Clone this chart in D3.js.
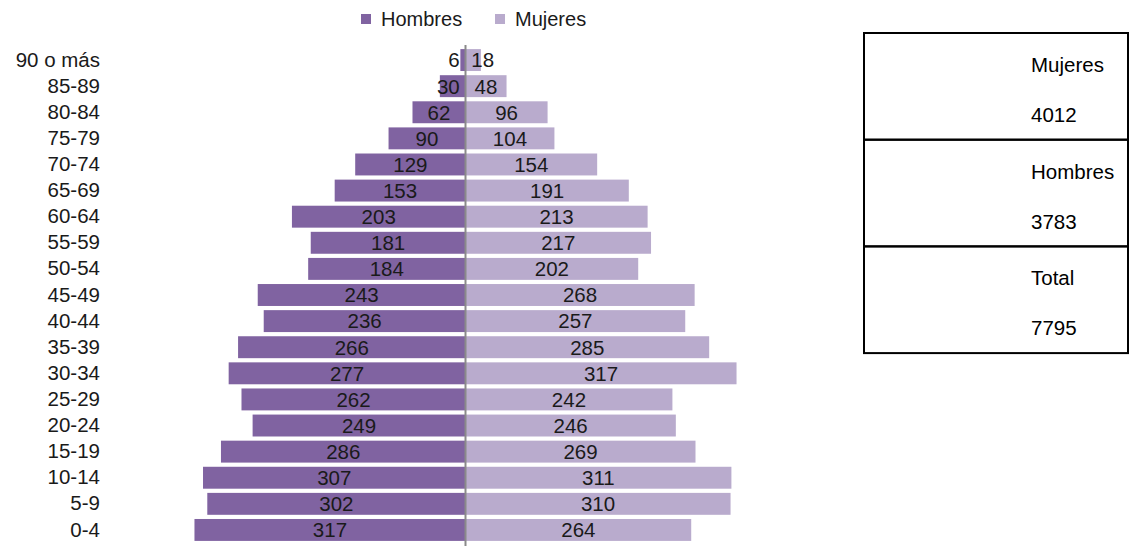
<!DOCTYPE html>
<meta charset="utf-8">
<style>
    body { margin: 0; background: #fff; }
    text { font-family: "Liberation Sans", Arial, sans-serif; fill: #1a1a1a; }
    .axis path, .axis line { display: none; }
    .axis text { font-size: 20.5px; }
    .val { font-size: 20.5px; }
    .legend text { font-size: 20px; }
    .box text { font-size: 20.5px; fill: #000; }
</style>
<svg width="1133" height="546"></svg>
<script src="https://cdn.jsdelivr.net/npm/d3@7"></script>
<script>

    var ages = ["0-4", "5-9", "10-14", "15-19", "20-24", "25-29", "30-34", "35-39", "40-44",
        "45-49", "50-54", "55-59", "60-64", "65-69", "70-74", "75-79", "80-84", "85-89", "90 o más"];
    var hombres = [317, 302, 307, 286, 249, 262, 277, 266, 236, 243, 184, 181, 203, 153, 129, 90, 62, 30, 6];
    var mujeres = [264, 310, 311, 269, 246, 242, 317, 285, 257, 268, 202, 217, 213, 191, 154, 104, 96, 48, 18];
    var seriesNames = ["Hombres", "Mujeres"];
    var colors = ["#8063a1", "#b9abcd"];
    var totalLabels = ["Mujeres", "Hombres", "Total"];
    var totalValues = [4012, 3783, 7795];

    var svg = d3.select("svg");

    var x = d3.scaleLinear()
            .domain([-350, 350])
            .range([166.25, 764.75]);

    var y = d3.scaleBand()
            .domain(ages.slice().reverse())
            .range([47, 543])
            .paddingInner(0.16)
            .paddingOuter(0.08);

    var rows = ages.map(function(a, i) { return { age: a, h: hombres[i], m: mujeres[i] }; });

    // bars, hombres to the left
    svg.append("g").selectAll("rect")
            .data(rows)
            .enter().append("rect")
            .attr("x", function(d) { return x(-d.h); })
            .attr("y", function(d) { return y(d.age); })
            .attr("width", function(d) { return x(0) - x(-d.h); })
            .attr("height", y.bandwidth())
            .attr("fill", colors[0]);

    svg.append("g").selectAll("rect")
            .data(rows)
            .enter().append("rect")
            .attr("x", x(0))
            .attr("y", function(d) { return y(d.age); })
            .attr("width", function(d) { return x(d.m) - x(0); })
            .attr("height", y.bandwidth())
            .attr("fill", colors[1]);

    // centre line
    svg.append("line")
            .attr("x1", x(0)).attr("x2", x(0))
            .attr("y1", 45).attr("y2", 546)
            .attr("stroke", "#8a8a8a")
            .attr("stroke-width", 2);

    // value labels, pushed out a bit when the bar is too short
    function labelOffset(v, txt) {
        var half = (x(v) - x(0)) / 2,
            minHalf = String(txt).length * 5.6 + 6;
        return Math.max(half, minHalf);
    }

    svg.append("g").selectAll("text")
            .data(rows)
            .enter().append("text")
            .attr("class", "val")
            .attr("text-anchor", "middle")
            .attr("x", function(d) { return x(0) - labelOffset(d.h, d.h); })
            .attr("y", function(d) { return y(d.age) + y.bandwidth() / 2; })
            .attr("dy", "0.36em")
            .text(function(d) { return d.h; });

    svg.append("g").selectAll("text")
            .data(rows)
            .enter().append("text")
            .attr("class", "val")
            .attr("text-anchor", "middle")
            .attr("x", function(d) { return x(0) + labelOffset(d.m, d.m); })
            .attr("y", function(d) { return y(d.age) + y.bandwidth() / 2; })
            .attr("dy", "0.36em")
            .text(function(d) { return d.m; });

    // age group labels
    svg.append("g")
            .attr("class", "axis")
            .attr("transform", "translate(100,0)")
            .call(d3.axisLeft(y).tickSize(0).tickPadding(0));

    // legend
    var legend = svg.append("g").attr("class", "legend");
    var legX = [361, 495];
    seriesNames.forEach(function(name, i) {
        legend.append("rect")
                .attr("x", legX[i]).attr("y", 14)
                .attr("width", 10).attr("height", 10)
                .attr("fill", colors[i]);
        legend.append("text")
                .attr("x", legX[i] + 20).attr("y", 26)
                .text(name);
    });

    // totals box
    var box = svg.append("g").attr("class", "box");
    var boxTop = 33, cellH = 106.7;
    totalLabels.forEach(function(lab, i) {
        var top = boxTop + i * cellH;
        box.append("rect")
                .attr("x", 864).attr("y", top)
                .attr("width", 264).attr("height", cellH)
                .attr("fill", "none")
                .attr("stroke", "#000")
                .attr("stroke-width", 2);
        box.append("text")
                .attr("x", 1031).attr("y", top + 39)
                .text(lab);
        box.append("text")
                .attr("x", 1031).attr("y", top + 89)
                .text(totalValues[i]);
    });

</script>
